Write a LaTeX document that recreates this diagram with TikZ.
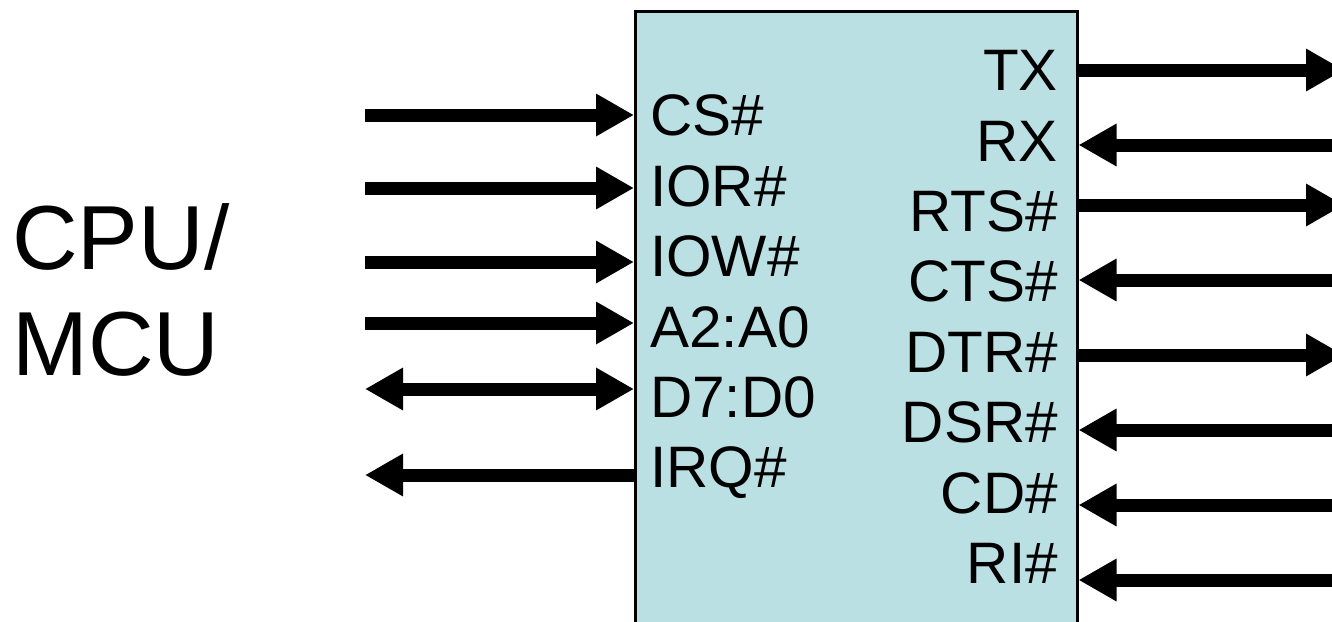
\documentclass[tikz,border=0pt]{standalone}
\usepackage{fontspec}
\setmainfont{Liberation Sans}
\usetikzlibrary{arrows.meta}
\definecolor{boxfill}{RGB}{186,224,227}
\begin{document}
\begin{tikzpicture}[x=1pt,y=-1pt,
  sig/.style={line width=13pt, -{Triangle[length=38pt,width=40pt]}},
  bisig/.style={line width=13pt, {Triangle[length=38pt,width=40pt]}-{Triangle[length=38pt,width=40pt]}},
  pinl/.style={anchor=base west, inner sep=0pt, font=\fontsize{58.5}{60}\selectfont},
  pinr/.style={anchor=base east, inner sep=0pt, font=\fontsize{58.5}{60}\selectfont},
  big/.style={anchor=base west, inner sep=0pt, font=\fontsize{91}{100}\selectfont}]
\useasboundingbox (0,0) rectangle (1332,621);
\clip (0,0) rectangle (1332,621);
\node[draw=black, fill=boxfill, line width=2.5pt, minimum width=442pt, minimum height=640pt,
      anchor=north west, inner sep=0pt] (uart) at (634,10) {};
% CPU label
\node[big] (cpu) at (12,269) {CPU/};
\node[big] (mcu) at (12,375) {MCU};
% left pin labels
\node[pinl] (cs)  at (650,135) {CS\#};
\node[pinl] (ior) at (650,206) {IOR\#};
\node[pinl] (iow) at (650,276) {IOW\#};
\node[pinl] (adr) at (650,347) {A2:A0};
\node[pinl] (dat) at (650,417) {D7:D0};
\node[pinl] (irq) at (650,487) {IRQ\#};
% right pin labels
\node[pinr] (tx)  at (1058,90)  {TX};
\node[pinr] (rx)  at (1058,161) {RX};
\node[pinr] (rts) at (1058,231) {RTS\#};
\node[pinr] (cts) at (1058,301) {CTS\#};
\node[pinr] (dtr) at (1058,372) {DTR\#};
\node[pinr] (dsr) at (1058,442) {DSR\#};
\node[pinr] (cd)  at (1058,513) {CD\#};
\node[pinr] (ri)  at (1058,583) {RI\#};
% left free ends
\coordinate (l1) at (365,115);
\coordinate (l2) at (365,188);
\coordinate (l3) at (365,262);
\coordinate (l4) at (365,323);
\coordinate (l5) at (365,389);
\coordinate (l6) at (365,475);
% right free ends
\coordinate (r1) at (1344,70);
\coordinate (r2) at (1344,145);
\coordinate (r3) at (1344,205);
\coordinate (r4) at (1344,280);
\coordinate (r5) at (1344,355);
\coordinate (r6) at (1344,430);
\coordinate (r7) at (1344,505);
\coordinate (r8) at (1344,580);
% left connectors
\draw[sig] (l1) -- (uart.west |- l1);
\draw[sig] (l2) -- (uart.west |- l2);
\draw[sig] (l3) -- (uart.west |- l3);
\draw[sig] (l4) -- (uart.west |- l4);
\draw[bisig] (l5) -- (uart.west |- l5);
\draw[sig] (uart.west |- l6) -- (l6);
% right connectors
\draw[sig] (uart.east |- r1) -- (r1);
\draw[sig] (r2) -- (uart.east |- r2);
\draw[sig] (uart.east |- r3) -- (r3);
\draw[sig] (r4) -- (uart.east |- r4);
\draw[sig] (uart.east |- r5) -- (r5);
\draw[sig] (r6) -- (uart.east |- r6);
\draw[sig] (r7) -- (uart.east |- r7);
\draw[sig] (r8) -- (uart.east |- r8);
\end{tikzpicture}
\end{document}
